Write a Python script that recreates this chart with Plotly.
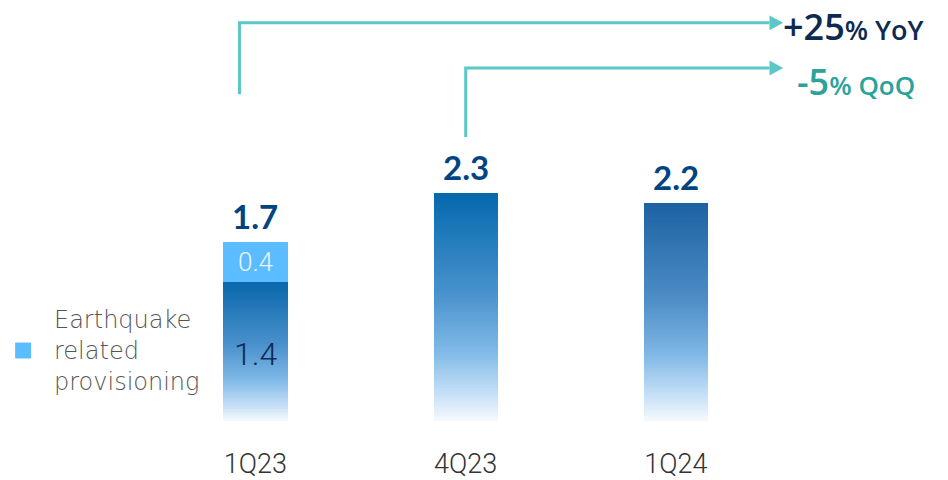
import plotly.graph_objects as go

# ---- data ----
categories = ["1Q23", "4Q23", "1Q24"]
core_values = [1.4, 2.3, 2.2]          # recurring provisioning
earthquake_values = [0.4, 0.0, 0.0]    # earthquake related provisioning
total_labels = ["1.7", "2.3", "2.2"]
yoy_label = ("+25", "% YoY")
qoq_label = ("-5", "% QoQ")
legend_lines = ["Earthquake", "related", "provisioning"]

# ---- styling ----
NAVY = "#004481"
TEAL = "#5BC7C6"
QUAKE_BLUE = "#5BBCFF"
BAR_WIDTH = 0.305
N_STEPS = 90

# gradient stops (fraction from top of bar -> colour), one ramp per bar
ramps = [
    [(0.0, "#0A68AD"), (0.45, "#4A91CC"), (0.7, "#7DB8E6"), (0.88, "#BFDCF5"), (1.0, "#F3F8FD")],
    [(0.0, "#0569AD"), (0.45, "#4A93CE"), (0.7, "#80BAE7"), (0.88, "#C3DFF6"), (1.0, "#F3F8FD")],
    [(0.0, "#1C62A2"), (0.45, "#4F8EC7"), (0.7, "#80B8E6"), (0.88, "#C3DFF6"), (1.0, "#F3F8FD")],
]


def hex_to_rgb(h):
    h = h.lstrip("#")
    return tuple(int(h[i:i + 2], 16) for i in (0, 2, 4))


def ramp_colour(stops, t):
    for (t0, c0), (t1, c1) in zip(stops[:-1], stops[1:]):
        if t <= t1:
            f = 0 if t1 == t0 else (t - t0) / (t1 - t0)
            a, b = hex_to_rgb(c0), hex_to_rgb(c1)
            return "rgb({},{},{})".format(*[round(a[i] + (b[i] - a[i]) * f) for i in range(3)])
    return stops[-1][1]


fig = go.Figure()
xpos = list(range(len(categories)))

# gradient bars: nested bars from tallest (top colour) down to shortest (bottom colour)
for i, v in enumerate(core_values):
    heights = [v * (N_STEPS - k) / N_STEPS for k in range(N_STEPS)]
    colours = [ramp_colour(ramps[i], k / (N_STEPS - 1)) for k in range(N_STEPS)]
    fig.add_trace(go.Bar(
        x=[xpos[i]] * N_STEPS, y=heights, base=0, width=BAR_WIDTH,
        marker=dict(color=colours, line=dict(width=0)),
        showlegend=False, hoverinfo="skip",
    ))

# earthquake related provisioning on top of 1Q23
fig.add_trace(go.Bar(
    x=xpos, y=earthquake_values, base=core_values, width=BAR_WIDTH,
    marker=dict(color=QUAKE_BLUE, line=dict(width=0)),
    text=[f"{v:.1f}" if v > 0 else "" for v in earthquake_values],
    textposition="inside", insidetextanchor="middle",
    textfont=dict(family="Roboto", size=26, color="#EAF5FF", weight=300),
    showlegend=False, hoverinfo="skip",
))

# inner label of the 1Q23 core segment
fig.add_annotation(x=xpos[0], y=core_values[0] / 2, text=f"{core_values[0]:.1f}",
                   showarrow=False, yshift=-2,
                   font=dict(family="Roboto", size=32, color="#0D2B55", weight=300))

# totals above the bars
for i in xpos:
    top = core_values[i] + earthquake_values[i]
    fig.add_annotation(x=i, y=top, text=f"<b>{total_labels[i]}</b>", showarrow=False,
                       yanchor="bottom", yshift=4,
                       font=dict(family="Lato", size=33, color=NAVY))

# growth arrows (coordinates in axis units: 100 px per y unit, ~210 px per category)
def arrow(x_start, y_start, y_top, x_tip):
    x_end = x_tip - 0.065
    fig.add_shape(type="path", xref="x", yref="y",
                  path=f"M {x_start},{y_start} L {x_start},{y_top} L {x_end},{y_top}",
                  line=dict(color=TEAL, width=3))
    fig.add_shape(type="path", xref="x", yref="y",
                  path=f"M {x_end},{y_top - 0.075} L {x_tip},{y_top} L {x_end},{y_top + 0.075} Z",
                  fillcolor=TEAL, line=dict(color=TEAL, width=0))


arrow(-0.076, 3.29, 4.01, 2.51)
arrow(1.0, 2.86, 3.555, 2.51)

fig.add_annotation(x=2.50, y=3.97, xanchor="left", yanchor="middle", showarrow=False,
                   text=(f"<span style='font-size:36px'>{yoy_label[0]}</span>"
                         f"<span style='font-size:27px'>{yoy_label[1]}</span>"),
                   font=dict(family="Open Sans", color="#0E2A52", weight=600))
fig.add_annotation(x=2.565, y=3.42, xanchor="left", yanchor="middle", showarrow=False,
                   text=(f"<span style='font-size:36px'>{qoq_label[0]}</span>"
                         f"<span style='font-size:26px'>{qoq_label[1]}</span>"),
                   font=dict(family="Open Sans", color="#2AA39B", weight=600))

# legend swatch and text
fig.add_shape(type="rect", xref="x", yref="y", x0=-1.143, x1=-1.067, y0=0.63, y1=0.79,
              fillcolor=QUAKE_BLUE, line=dict(width=0))
fig.add_annotation(x=-0.968, y=0.71, xanchor="left", yanchor="middle", align="left",
                   showarrow=False, text="<br>".join(legend_lines),
                   font=dict(family="DejaVu Sans", size=24, color="#555555", weight=200))

fig.update_layout(
    width=948, height=480,
    margin=dict(l=0, r=0, t=0, b=56),
    barmode="overlay", bargap=0,
    plot_bgcolor="white", paper_bgcolor="white",
    xaxis=dict(range=[-1.215, 3.294], tickvals=xpos, ticktext=categories,
               showgrid=False, zeroline=False, showline=False,
               ticks="outside", ticklen=19, tickcolor="rgba(0,0,0,0)",
               tickfont=dict(family="Roboto", size=27, color="#333333", weight=300)),
    yaxis=dict(range=[0, 4.24], visible=False),
)

fig.write_html("out.html")
